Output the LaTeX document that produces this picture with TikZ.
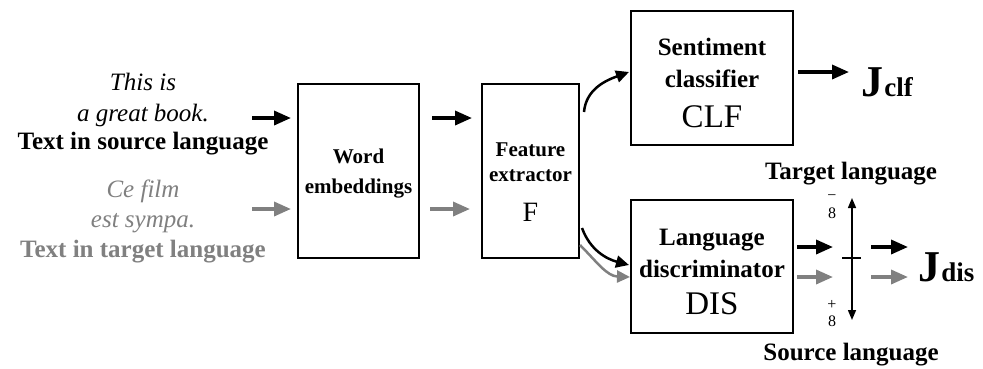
\documentclass[tikz,border=0pt]{standalone}
\usepackage{fontspec}
\setmainfont{Liberation Serif}
\usetikzlibrary{arrows.meta}
\definecolor{lg}{RGB}{128,128,128}
\tikzset{
  box/.style={draw, line width=1.5pt, inner sep=0pt},
  fat/.style={line width=3.5pt, -{Triangle[length=17pt,width=14pt]}},
  curv/.style={line width=2.5pt, -{Triangle[length=13pt,width=12pt]}},
  lbl/.style={anchor=base, inner sep=0pt, font=\fontsize{25}{28}\selectfont},
  blbl/.style={lbl, font=\fontsize{25}{28}\selectfont\bfseries},
  ilbl/.style={lbl, font=\fontsize{25}{28}\selectfont\itshape},
  wlbl/.style={lbl, font=\fontsize{21}{24}\selectfont\bfseries},
  big/.style={lbl, font=\fontsize{33}{36}\selectfont},
  jlbl/.style={lbl, font=\fontsize{44}{48}\selectfont\bfseries},
  jsub/.style={lbl, anchor=base west, font=\fontsize{27}{30}\selectfont\bfseries},
  inf/.style={lbl, anchor=center, font=\fontsize{16}{16}\selectfont},
}
\begin{document}
\begin{tikzpicture}[x=1pt,y=-1pt]
\useasboundingbox (0,0) rectangle (983,368);
% input texts
\node[ilbl] (t1) at (143,90) {This is};
\node[ilbl] (t2) at (143,121) {a great book.};
\node[blbl] (t3) at (143,149) {Text in source language};
\node[ilbl, text=lg] (t4) at (143,197) {Ce film};
\node[ilbl, text=lg] (t5) at (143,227) {est sympa.};
\node[blbl, text=lg] (t6) at (143,257) {Text in target language};
% boxes
\node[box, minimum width=121, minimum height=174] (we) at (358.5,171) {};
\node[box, minimum width=97, minimum height=174] (fe) at (530.5,171) {};
\node[box, minimum width=162, minimum height=134] (clf) at (712,78) {};
\node[box, minimum width=162, minimum height=133] (dis) at (712,266.5) {};
\node[wlbl] (w1) at (358.5,163) {Word};
\node[wlbl] (w2) at (358.5,193) {embeddings};
\node[wlbl] (f1) at (530.5,156) {Feature};
\node[wlbl] (f2) at (530.5,181) {extractor};
\node[lbl, font=\fontsize{28}{30}\selectfont] (f3) at (530.5,221) {F};
\node[blbl] (c1) at (712,55) {Sentiment};
\node[blbl] (c2) at (712,87) {classifier};
\node[big] (c3) at (712,127) {CLF};
\node[blbl] (d1) at (712,245) {Language};
\node[blbl] (d2) at (712,277) {discriminator};
\node[big] (d3) at (712,314) {DIS};
% outputs
\node[jlbl] (jc) at (872,96) {J};
\node[jsub] (jcs) at ([xshift=1pt]jc.base east) {clf};
\node[jlbl] (jd) at (929,281) {J};
\node[jsub] (jds) at ([xshift=1pt]jd.base east) {dis};
\node[blbl] (tl) at (851,179) {Target language};
\node[blbl] (sl) at (851,360) {Source language};
\node[inf] (mi) at (832,198) {−};
\node[inf] (m8) at (832,213) {8};
\node[inf] (pl) at (832,305) {+};
\node[inf] (p8) at (832,321) {8};
% coordinates
\coordinate (a1s) at (252,118); \coordinate (a1e) at (291,118);
\coordinate (a2s) at (252,209); \coordinate (a2e) at (291,209);
\coordinate (b1s) at (432,118); \coordinate (b1e) at (472,118);
\coordinate (b2s) at (430,209); \coordinate (b2e) at (470,209);
\coordinate (u1s) at (584,112); \coordinate (u1e) at (629,72);
\coordinate (l1s) at (582,228); \coordinate (l1e) at (629,265);
\coordinate (l2s) at (580,245); \coordinate (l2e) at (630,277);
\coordinate (o1s) at (798,72); \coordinate (o1e) at (849,72);
\coordinate (d1s) at (797,247); \coordinate (d1e) at (833,247);
\coordinate (d2s) at (797,277); \coordinate (d2e) at (833,277);
\coordinate (e1s) at (871,247); \coordinate (e1e) at (908,247);
\coordinate (e2s) at (871,277); \coordinate (e2e) at (908,277);
\coordinate (vt) at (852,198); \coordinate (vb) at (852,320);
\coordinate (hl) at (842,258); \coordinate (hr) at (861,258);
% arrows
\draw[fat] (a1s) -- (a1e);
\draw[fat, lg] (a2s) -- (a2e);
\draw[fat] (b1s) -- (b1e);
\draw[fat, lg] (b2s) -- (b2e);
\draw[curv] (u1s) to[out=85, in=200] (u1e);
\draw[curv, lg] (l2s) to[out=-45, in=178] (l2e);
\draw[curv] (l1s) to[out=-70, in=165] (l1e);
\draw[fat] (o1s) -- (o1e);
\draw[fat] (d1s) -- (d1e);
\draw[fat, lg] (d2s) -- (d2e);
\draw[fat] (e1s) -- (e1e);
\draw[fat, lg] (e2s) -- (e2e);
\draw[line width=1.5pt, {Triangle[length=10pt,width=8pt]}-{Triangle[length=10pt,width=8pt]}] (vt) -- (vb);
\draw[line width=1.5pt] (hl) -- (hr);
\end{tikzpicture}
\end{document}
